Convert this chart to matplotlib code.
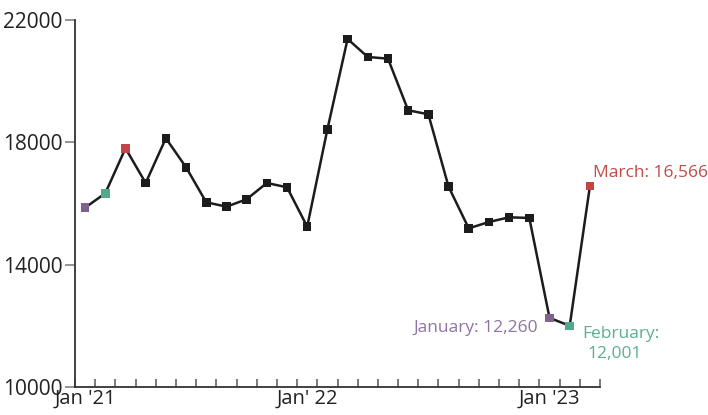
import matplotlib
matplotlib.use("Agg")
import matplotlib.pyplot as plt
from matplotlib.transforms import offset_copy

plt.rcParams['font.family'] = ['Open Sans', 'DejaVu Sans']

values = [15863, 16334, 17806, 16671, 18133, 17184, 16040, 15896, 16138, 16671,
          16530, 15242, 18427, 21380, 20791, 20736, 19048, 18917, 16550, 15187,
          15396, 15549, 15527, 12260, 12001, 16566]
tick_positions = [0, 11, 23]
tick_labels = ["Jan '21", "Jan' 22", "Jan '23"]
yticks = [10000, 14000, 18000, 22000]

purple = '#80628f'
green = '#4fa98a'
red = '#c24443'
black = '#1c1c1c'

marker_colors = [black] * len(values)
for i in (0, 23):
    marker_colors[i] = purple
for i in (1, 24):
    marker_colors[i] = green
for i in (2, 25):
    marker_colors[i] = red

fig = plt.figure(figsize=(7.08, 4.15), dpi=100)
ax = fig.add_axes([75/708, 1-387/415, (600-75)/708, (387-20)/415])

x = list(range(len(values)))
ax.plot(x, values, color=black, lw=1.8, zorder=2)
ax.scatter(x, values, marker='s', s=38, c=marker_colors, zorder=3, linewidths=0)

ax.set_xlim(-0.5, len(values) - 0.5)
ax.set_ylim(10000, 22000)

for s in ('top', 'right'):
    ax.spines[s].set_visible(False)
for s in ('left', 'bottom'):
    ax.spines[s].set_color('#333333')
    ax.spines[s].set_linewidth(1.3)

ax.set_yticks(yticks)
ax.set_yticklabels([str(v) for v in yticks])
ax.tick_params(axis='y', direction='out', length=7, width=1.1, color='#777777',
               pad=2, labelsize=15, labelcolor='#222222')

ax.set_xticks(tick_positions)
ax.set_xticklabels(tick_labels)
ax.tick_params(axis='x', which='major', length=0, pad=1, labelsize=14.5, labelcolor='#222222')
ax.set_xticks([i - 0.5 for i in range(len(values) + 1)], minor=True)
ax.tick_params(axis='x', which='minor', direction='in', length=6, width=1.1, color='#555555')

def label(i, text, dx, dy, color, ha):
    tr = offset_copy(ax.transData, fig=fig, x=dx, y=dy, units='dots')
    ax.text(i, values[i], text, transform=tr, color=color, ha=ha, va='baseline',
            fontsize=12.5)

label(25, "March: 16,566", 3, 9, '#c24a48', 'left')
label(23, "January: 12,260", -12, -14, '#8f73a0', 'right')
label(24, "February:", 13, -12, '#5aaf92', 'left')
label(24, "12,001", 18, -32, '#5aaf92', 'left')

fig.savefig('out.png', dpi=100)
